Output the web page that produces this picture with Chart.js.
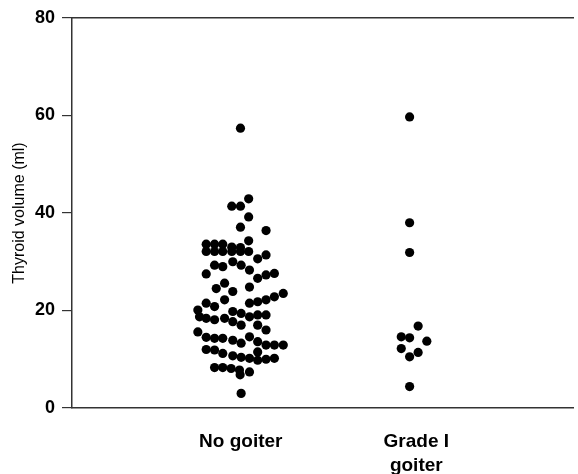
<!DOCTYPE html>
<html lang="en">
<head>
  <meta charset="UTF-8">
  <title>Thyroid volume</title>
  <script src="https://cdn.jsdelivr.net/npm/chart.js@4.4.1/dist/chart.umd.min.js"></script>
  <style>
    body { margin: 0; padding: 0; background: #fff; }
  </style>
</head>
<body>
  <canvas id="plot" width="578" height="474"></canvas>

  <script>
    // categories and where their labels sit on the x scale
    const categories = ["No goiter", ["Grade I", "goiter"]];
    const categoryPos = [1.01, 2.06];
    const yTicks = [0, 20, 40, 60, 80];

    // No goiter: jitter position + thyroid volume (ml)
    const noGoiterX = [1.008, 1.057, 0.956, 1.008, 1.057, 1.008, 1.161, 1.057,
      0.803, 0.853, 0.902, 0.956, 1.008,
      0.803, 0.853, 0.902, 0.956, 1.008, 1.057,
      1.161, 1.111, 0.853, 0.902, 0.962, 1.012, 1.062, 0.803,
      1.111, 1.161, 1.211, 0.863, 0.913, 0.962, 1.062,
      1.062, 1.111, 1.161, 1.211, 1.264, 0.803, 0.853, 0.913,
      0.753, 0.763, 0.962, 1.012, 1.062, 1.111, 1.161,
      0.803, 0.853, 0.913, 0.962, 1.012, 1.111, 1.161, 0.753,
      0.803, 0.853, 0.902, 0.962, 1.012, 1.062, 1.111, 1.161, 1.211, 1.264,
      0.803, 0.853, 0.902, 0.962, 1.012, 1.062, 1.111, 1.161, 1.211, 1.111,
      0.853, 0.902, 0.952, 1.002, 1.062, 1.006, 1.012];
    const noGoiterY = [57.4, 42.9, 41.4, 41.4, 39.2, 37.1, 36.4, 34.3,
      33.6, 33.6, 33.6, 33.0, 32.9,
      32.1, 32.1, 32.1, 32.1, 32.1, 32.1,
      31.4, 30.6, 29.3, 29.0, 30.0, 29.3, 28.3, 27.5,
      26.6, 27.3, 27.6, 24.5, 25.6, 23.9, 24.8,
      21.5, 21.8, 22.2, 22.8, 23.5, 21.5, 20.8, 22.2,
      20.1, 18.7, 19.8, 19.4, 18.7, 19.1, 19.1,
      18.4, 18.1, 18.4, 17.7, 17.0, 17.0, 16.0, 15.6,
      14.5, 14.3, 14.3, 13.9, 13.3, 14.6, 13.6, 12.9, 12.9, 12.9,
      12.0, 11.9, 11.2, 10.7, 10.4, 10.2, 9.8, 10.0, 10.2, 11.5,
      8.3, 8.3, 8.1, 7.8, 7.4, 6.8, 3.0];

    // Grade I goiter
    const gradeIX = [2.020, 2.020, 2.020, 2.071, 1.970, 2.020, 2.123, 1.970, 2.071, 2.020, 2.020];
    const gradeIY = [59.7, 38.0, 31.9, 16.8, 14.6, 14.4, 13.7, 12.2, 11.4, 10.5, 4.4];

    const toPoints = (xs, ys) => xs.map((x, i) => ({ x: x, y: ys[i] }));

    const axisColor = "#333";
    const ctx = document.getElementById("plot").getContext("2d");

    new Chart(ctx, {
      type: "scatter",
      data: {
        datasets: [
          { data: toPoints(noGoiterX, noGoiterY), backgroundColor: "#000", borderWidth: 0, pointRadius: 4.6 },
          { data: toPoints(gradeIX, gradeIY), backgroundColor: "#000", borderWidth: 0, pointRadius: 4.6 }
        ]
      },
      options: {
        responsive: false,
        animation: false,
        events: [],
        layout: { padding: { top: 0, right: 3, bottom: 0, left: 0 } },
        plugins: { legend: { display: false }, tooltip: { enabled: false } },
        scales: {
          x: {
            type: "linear",
            position: "bottom",
            min: 0,
            max: 3,
            grid: { display: false },
            border: { display: true, color: axisColor, width: 1.5 },
            afterBuildTicks: (scale) => { scale.ticks = categoryPos.map(v => ({ value: v })); },
            afterFit: (scale) => { scale.height = 66; },
            ticks: {
              autoSkip: false,
              maxRotation: 0,
              padding: 13,
              color: "#000",
              font: { family: "'Liberation Sans', Arial, sans-serif", size: 19, weight: "bold", lineHeight: 1.3 },
              callback: (value) => {
                const i = categoryPos.indexOf(value);
                return i >= 0 ? categories[i] : "";
              }
            }
          },
          xTop: {
            type: "linear",
            position: "top",
            min: 0,
            max: 3,
            grid: { display: false },
            ticks: { display: false },
            border: { display: true, color: axisColor, width: 1.5 },
            afterFit: (scale) => { scale.height = 18; }
          },
          y: {
            min: 0,
            max: 80,
            afterBuildTicks: (scale) => { scale.ticks = yTicks.map(v => ({ value: v })); },
            afterFit: (scale) => { scale.width = 72; },
            grid: { drawOnChartArea: false, drawTicks: true, tickLength: 10, color: axisColor, lineWidth: 1.2 },
            border: { display: true, color: axisColor, width: 1.5 },
            ticks: {
              padding: 7,
              color: "#000",
              font: { family: "'Liberation Sans', Arial, sans-serif", size: 18, weight: "bold" }
            },
            title: {
              display: true,
              text: "Thyroid volume (ml)",
              color: "#000",
              padding: { top: 10, bottom: 0 },
              font: { family: "'Liberation Sans', Arial, sans-serif", size: 16 }
            }
          }
        }
      }
    });
  </script>
</body>
</html>
